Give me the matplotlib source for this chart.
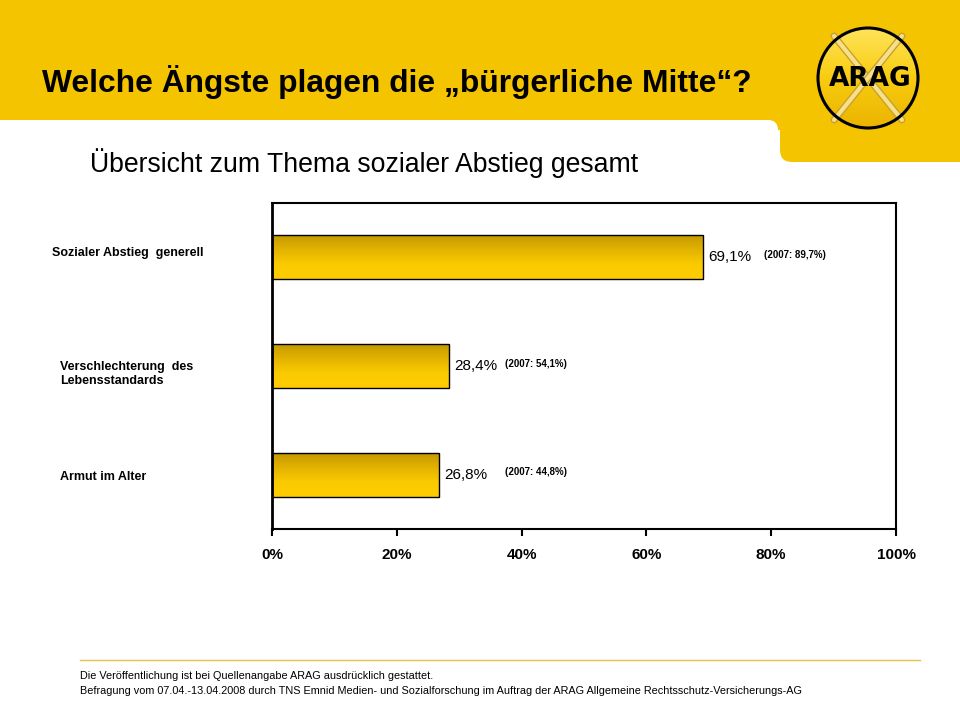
import matplotlib
matplotlib.use("Agg")
import matplotlib.pyplot as plt
import numpy as np
from matplotlib.patches import Rectangle, FancyBboxPatch, Circle
from matplotlib import font_manager

plt.rcParams['font.family'] = ['Liberation Sans', 'DejaVu Sans']

categories = ["Sozialer Abstieg  generell", "Verschlechterung  des\nLebensstandards", "Armut im Alter"]
values_2008 = [69.1, 28.4, 26.8]
values_2007 = [89.7, 54.1, 44.8]
value_labels = ["69,1%", "28,4%", "26,8%"]
prev_labels = ["(2007: 89,7%)", "(2007: 54,1%)", "(2007: 44,8%)"]
xticks = [0, 20, 40, 60, 80, 100]
xtick_labels = ["0%", "20%", "40%", "60%", "80%", "100%"]

W, H = 960, 720
fig = plt.figure(figsize=(9.6, 7.2), dpi=100)

def fx(x):
    return x / W

def fy(y):
    return 1 - y / H

YEL = "#F5C400"

names = {f.name for f in font_manager.fontManager.ttflist}
logo_family = "Liberation Sans Narrow" if "Liberation Sans Narrow" in names else "DejaVu Sans"
logo_size = 25 if logo_family == "Liberation Sans Narrow" else 19

# background / header
bg = fig.add_axes([0, 0, 1, 1], zorder=0)
bg.set_xlim(0, W)
bg.set_ylim(H, 0)
bg.axis("off")
bg.add_patch(Rectangle((0, 0), W, 130, color=YEL, lw=0))
bg.add_patch(FancyBboxPatch((780, 90), 260, 72, boxstyle="round,pad=0,rounding_size=12",
                            color=YEL, lw=0))
bg.add_patch(FancyBboxPatch((-50, 120), 828, 200, boxstyle="round,pad=0,rounding_size=10",
                            color="white", lw=0))
# footer line
bg.plot([80, 920], [660, 660], color="#E6C04A", lw=1)

# logo
cx, cy, r = 868, 78, 50
grad = np.linspace(0, 1, 100).reshape(-1, 1)
im = bg.imshow(grad, extent=(cx - r, cx + r, cy + r, cy - r),
               cmap=matplotlib.colors.LinearSegmentedColormap.from_list(
                   "lg", ["#FFE45A", "#F8CC10", "#EBB400"]), aspect="auto", zorder=2)
circ = Circle((cx, cy), r, transform=bg.transData, facecolor="none", edgecolor="none")
bg.add_patch(circ)
im.set_clip_path(circ)
for (x0, y0, x1, y1) in [(834, 36, 902, 120), (902, 36, 834, 120)]:
    bg.plot([x0, x1], [y0, y1], color="#C9A030", lw=5, solid_capstyle="round", zorder=3)
    bg.plot([x0, x1], [y0, y1], color="#F6E08A", lw=3, solid_capstyle="round", zorder=3)
bg.add_patch(Circle((cx, cy), r, facecolor="none", edgecolor="black", lw=2.2, zorder=4))
bg.text(cx + 2, cy + 1, "ARAG", fontsize=logo_size, fontweight="bold", family=logo_family,
        ha="center", va="center", color="black", zorder=5)

# titles
fig.text(fx(42), fy(82), "Welche Ängste plagen die „bürgerliche Mitte“?", fontsize=22.9,
         fontweight="bold", ha="left", va="center", color="black")
fig.text(fx(90), fy(163), "Übersicht zum Thema sozialer Abstieg gesamt", fontsize=19.2,
         ha="left", va="center", color="black")

# chart axes
ax = fig.add_axes([fx(272), fy(529), fx(896) - fx(272), (529 - 203) / H], zorder=2)
ax.set_facecolor("none")
ypos = np.arange(len(categories))
bars = ax.barh(ypos, values_2008, height=0.405, facecolor="none", edgecolor="black", lw=1, zorder=3)
bar_cmap = matplotlib.colors.LinearSegmentedColormap.from_list(
    "bar", ["#C29800", "#E2B200", "#FACA00", "#FFCC00"])
for b in bars:
    x0, y0 = b.get_x(), b.get_y()
    w, h = b.get_width(), b.get_height()
    g = ax.imshow(np.linspace(0, 1, 64).reshape(-1, 1), extent=(x0, x0 + w, y0 + h, y0),
                  cmap=bar_cmap, aspect="auto", zorder=2)
    g.set_clip_path(b)
ax.set_xlim(0, 100)
ax.set_ylim(2.5, -0.5)

prev_x = [78.8, 37.3, 37.3]
for i, (v, lab, prev) in enumerate(zip(values_2008, value_labels, prev_labels)):
    ax.text(v + 0.8, i, lab, fontsize=11, va="center", ha="left", color="black")
    ax.text(prev_x[i], i - 0.02, prev, fontsize=7, fontweight="bold",
            va="center", ha="left", color="black")

ax.set_yticks([])
ax.set_xticks(xticks)
ax.set_xticklabels(xtick_labels, fontsize=11, fontweight="bold")
ax.tick_params(axis="x", direction="out", length=5, width=1.5, pad=9)
for s in ax.spines.values():
    s.set_linewidth(1.5)
ax.spines["left"].set_linewidth(2)

# category labels
fig.text(fx(52), fy(253), categories[0], fontsize=9, fontweight="bold", ha="left", va="center")
fig.text(fx(60), fy(374), categories[1], fontsize=9, fontweight="bold", ha="left", va="center",
         linespacing=1.25)
fig.text(fx(60), fy(477), categories[2], fontsize=9, fontweight="bold", ha="left", va="center")

# footer
fig.text(fx(80), fy(676), "Die Veröffentlichung ist bei Quellenangabe ARAG ausdrücklich gestattet.",
         fontsize=7.8, ha="left", va="center")
fig.text(fx(80), fy(691), "Befragung vom 07.04.-13.04.2008 durch TNS Emnid Medien- und Sozialforschung im Auftrag der ARAG Allgemeine Rechtsschutz-Versicherungs-AG",
         fontsize=7.8, ha="left", va="center")

fig.savefig("out.png", dpi=100)
